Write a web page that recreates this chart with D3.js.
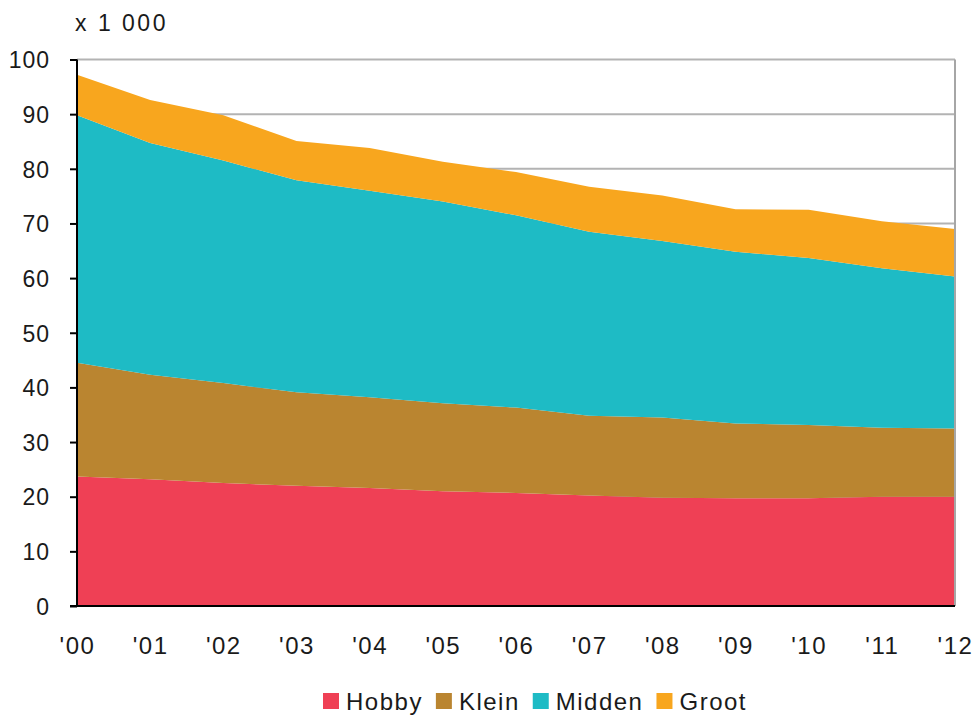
<!DOCTYPE html>
<html>
<head>
<meta charset="utf-8">
<script src="https://cdnjs.cloudflare.com/ajax/libs/d3/7.8.5/d3.min.js"></script>
<style>
body{margin: 0; background: #fff;}
text{font-family: Arial, 'Liberation Sans', sans-serif; fill: #1a1a1a;}
</style>
</head>
<body>
<div id="chart"></div>
<script>

var years = [2000, 2001, 2002, 2003, 2004, 2005, 2006, 2007, 2008, 2009, 2010, 2011, 2012]
var yearLabels = ["'00", "'01", "'02", "'03", "'04", "'05", "'06", "'07", "'08", "'09", "'10", "'11", "'12"]

// x 1 000
var hobby  = [23.7, 23.2, 22.5, 22.0, 21.6, 21.0, 20.7, 20.2, 19.8, 19.7, 19.7, 20.0, 20.0]
var klein  = [20.8, 19.1, 18.3, 17.1, 16.6, 16.1, 15.6, 14.6, 14.7, 13.7, 13.4, 12.6, 12.5]
var midden = [45.3, 42.4, 40.7, 38.8, 37.8, 36.9, 35.2, 33.7, 32.3, 31.4, 30.6, 29.2, 27.8]
var groot  = [ 7.4,  7.9,  8.3,  7.2,  7.8,  7.3,  7.9,  8.2,  8.3,  7.8,  8.8,  8.6,  8.7]

var seriesNames = ['Hobby', 'Klein', 'Midden', 'Groot']
var colors = ['#ef4055', '#ba8530', '#1ebbc5', '#f8a61e']
var yTicks = [0, 10, 20, 30, 40, 50, 60, 70, 80, 90, 100]

var width = 973, height = 715
// note: `top` is taken by window.top, so prefix these
var mLeft = 77, mRight = 955, mTop = 59.5, mBottom = 606

var svg = d3.select('#chart').append('svg')
  .attr('width', width)
  .attr('height', height)

var x = d3.scaleLinear().domain([2000, 2012]).range([mLeft, mRight])
var y = d3.scaleLinear().domain([0, 100]).range([mBottom, mTop])

var rows = years.map((yr, i) => ({
  year: yr, Hobby: hobby[i], Klein: klein[i], Midden: midden[i], Groot: groot[i]
}))

var stack = d3.stack().keys(seriesNames)(rows)

// grid
svg.append('g').selectAll('line')
  .data(yTicks.filter(d => d > 0))
  .join('line')
  .attr('x1', mLeft).attr('x2', mRight)
  .attr('y1', d => y(d)).attr('y2', d => y(d))
  .attr('stroke', '#b3b3b3')
  .attr('stroke-width', 2)

var area = d3.area()
  .x(d => x(d.data.year))
  .y0(d => y(d[0]))
  .y1(d => y(d[1]))

svg.append('g').selectAll('path')
  .data(stack)
  .join('path')
  .attr('d', area)
  .attr('fill', (d, i) => colors[i])

// right border
svg.append('line')
  .attr('x1', mRight).attr('x2', mRight)
  .attr('y1', mTop).attr('y2', mBottom)
  .attr('stroke', '#a6a6a6')
  .attr('stroke-width', 2)

// y axis
var yAxis = d3.axisLeft(y).tickValues(yTicks).tickSize(7).tickPadding(20)
var yg = svg.append('g')
  .attr('transform', 'translate(' + mLeft + ',0)')
  .call(yAxis)
yg.select('.domain').attr('stroke', '#000').attr('stroke-width', 2).attr('d', 'M0,' + mTop + 'V' + mBottom)
yg.selectAll('.tick line').attr('stroke', '#000').attr('stroke-width', 2)
yg.selectAll('.tick text')
  .attr('fill', '#1a1a1a')
  .style('font-size', '23px')
  .style('letter-spacing', '1px')
  .attr('dy', '0.36em')

// x axis
var xAxis = d3.axisBottom(x).tickValues(years).tickFormat((d, i) => yearLabels[i]).tickSize(0).tickPadding(31)
var xg = svg.append('g')
  .attr('transform', 'translate(0,' + mBottom + ')')
  .call(xAxis)
xg.select('.domain').attr('stroke', '#000').attr('stroke-width', 2).attr('d', 'M' + (mLeft - 7) + ',0H' + mRight)
xg.selectAll('.tick text')
  .attr('fill', '#1a1a1a')
  .style('font-size', '24px')
  .style('letter-spacing', '1.5px')

svg.append('text')
  .attr('x', 75).attr('y', 31)
  .style('font-size', '23px')
  .style('letter-spacing', '2.5px')
  .text('x 1 000')

// legend
var lx = 323
var legend = svg.append('g')
seriesNames.forEach((name, i) => {
  var g = legend.append('g').attr('transform', 'translate(' + lx + ',0)')
  g.append('rect').attr('x', 0).attr('y', 693).attr('width', 16).attr('height', 16).attr('fill', colors[i])
  var t = g.append('text')
    .attr('x', 23).attr('y', 710)
    .style('font-size', '24px')
    .style('letter-spacing', '1.5px')
    .text(name)
  lx += 23 + t.node().getComputedTextLength() + 13
})

</script>
</body>
</html>
